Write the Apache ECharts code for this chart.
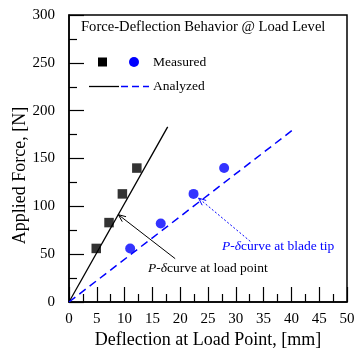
<!DOCTYPE html>
<html><head><meta charset="utf-8">
<script src="https://cdn.jsdelivr.net/npm/echarts@6/dist/echarts.min.js"></script>
<style>html,body{margin:0;padding:0;background:#fff}#c{width:354px;height:354px}</style>
</head><body><div id="c"></div>
<script>
// Data
const measuredLoadPoint = [[4.9, 56], [7.2, 83], [9.6, 113], [12.2, 140]];
const measuredBladeTip = [[11.0, 56], [16.5, 82], [22.4, 113], [27.9, 140]];
const analyzedLoadPoint = [[0, 0], [17.75, 183]];
const analyzedBladeTip = [[0, 0], [40.5, 181]];
const arrowLoadPoint = [[19.1, 45.3, 8.87, 91.3]];
const arrowBladeTip = [[32.6, 63.4, 23.3, 108.6]];
const xTicks = [0, 5, 10, 15, 20, 25, 30, 35, 40, 45, 50];
const yTicks = [0, 50, 100, 150, 200, 250, 300];

const FONT = 'Liberation Serif';
const chart = echarts.init(document.getElementById('c'));

function arrowRender(color, dash) {
  return function (params, api) {
    const p1 = api.coord([api.value(0), api.value(1)]);
    const p2 = api.coord([api.value(2), api.value(3)]);
    const ang = Math.atan2(p1[1] - p2[1], p1[0] - p2[0]);
    const L = 8, a = 0.4;
    const h1 = [p2[0] + L * Math.cos(ang + a), p2[1] + L * Math.sin(ang + a)];
    const h2 = [p2[0] + L * Math.cos(ang - a), p2[1] + L * Math.sin(ang - a)];
    return {
      type: 'group',
      children: [
        {type: 'line', shape: {x1: p1[0], y1: p1[1], x2: p2[0], y2: p2[1]},
         style: {stroke: color, lineWidth: 1, lineDash: dash}},
        {type: 'polyline', shape: {points: [h1, p2, h2]},
         style: {stroke: color, lineWidth: 1, fill: null}}
      ]
    };
  };
}

chart.setOption({
  animation: false,
  grid: {left: 69, right: 7, top: 15, bottom: 52, outerBoundsMode: 'none', containLabel: false,
         show: true, borderColor: '#000', borderWidth: 1.5, backgroundColor: 'transparent'},
  xAxis: {
    type: 'value', min: xTicks[0], max: xTicks[xTicks.length - 1], interval: 5,
    name: 'Deflection at Load Point, [mm]', nameLocation: 'middle', nameGap: 29, nameMoveOverlap: false,
    nameTextStyle: {fontFamily: FONT, fontSize: 18, color: '#000'},
    axisLine: {lineStyle: {color: '#000', width: 1.5}},
    axisTick: {inside: true, length: 15, lineStyle: {color: '#000', width: 1.2}},
    minorTick: {show: true, splitNumber: 2, length: 8, lineStyle: {color: '#000', width: 1.2}},
    splitLine: {show: false},
    axisLabel: {fontFamily: FONT, fontSize: 15, color: '#000', margin: 10}
  },
  yAxis: {
    type: 'value', min: yTicks[0], max: yTicks[yTicks.length - 1], interval: 50,
    name: 'Applied Force, [N]', nameLocation: 'middle', nameGap: 40, nameMoveOverlap: false,
    nameTextStyle: {fontFamily: FONT, fontSize: 18, color: '#000', padding: [0, 34, 0, 0]},
    axisLine: {lineStyle: {color: '#000', width: 1.5}},
    axisTick: {inside: true, length: 15, lineStyle: {color: '#000', width: 1.2}},
    minorTick: {show: true, splitNumber: 2, length: 8, lineStyle: {color: '#000', width: 1.2}},
    splitLine: {show: false},
    axisLabel: {fontFamily: FONT, fontSize: 15, color: '#000', margin: 14}
  },
  series: [
    {type: 'line', data: analyzedLoadPoint, symbol: 'none', lineStyle: {color: '#000', width: 1.3}, z: 2},
    {type: 'line', data: analyzedBladeTip, symbol: 'none', lineStyle: {color: '#0000ff', width: 1.5, type: [8, 5]}, z: 2},
    {type: 'scatter', data: measuredLoadPoint, symbol: 'rect', symbolSize: 9.5, itemStyle: {color: '#000'}, z: 3},
    {type: 'scatter', data: measuredBladeTip, symbol: 'circle', symbolSize: 10, itemStyle: {color: '#0000ff'}, z: 3},
    {type: 'custom', data: arrowLoadPoint, renderItem: arrowRender('#000', null), z: 4},
    {type: 'custom', data: arrowBladeTip, renderItem: arrowRender('#0000ff', [2, 2]), z: 4}
  ],
  graphic: [
    {type: 'text', left: 81, top: 20, style: {text: 'Force-Deflection Behavior @ Load Level', font: '14.6px "Liberation Serif"', fill: '#000'}},
    {type: 'rect', shape: {x: 98, y: 57.5, width: 9, height: 9}, style: {fill: '#000'}},
    {type: 'circle', shape: {cx: 134, cy: 62, r: 5}, style: {fill: '#0000ff'}},
    {type: 'text', left: 153, top: 55, style: {text: 'Measured', font: '13.5px "Liberation Serif"', fill: '#000'}},
    {type: 'line', shape: {x1: 89, y1: 86.5, x2: 119, y2: 86.5}, style: {stroke: '#000', lineWidth: 1.3}},
    {type: 'line', shape: {x1: 121, y1: 86.5, x2: 149, y2: 86.5}, style: {stroke: '#0000ff', lineWidth: 1.5, lineDash: [7, 4]}},
    {type: 'text', left: 153, top: 79, style: {text: 'Analyzed', font: '13.5px "Liberation Serif"', fill: '#000'}},
    {type: 'text', left: 148, top: 261, style: {
      text: '{i|P-δ}curve at load point', fill: '#000',
      font: '13.5px "Liberation Serif"',
      rich: {i: {fontStyle: 'italic', fontFamily: FONT, fontSize: 13.5, fill: '#000'}}
    }},
    {type: 'text', left: 222, top: 239, style: {
      text: '{i|P-δ}curve at blade tip', fill: '#0000ff',
      font: '13.5px "Liberation Serif"',
      rich: {i: {fontStyle: 'italic', fontFamily: FONT, fontSize: 13.5, fill: '#0000ff'}}
    }}
  ]
});
</script></body></html>
